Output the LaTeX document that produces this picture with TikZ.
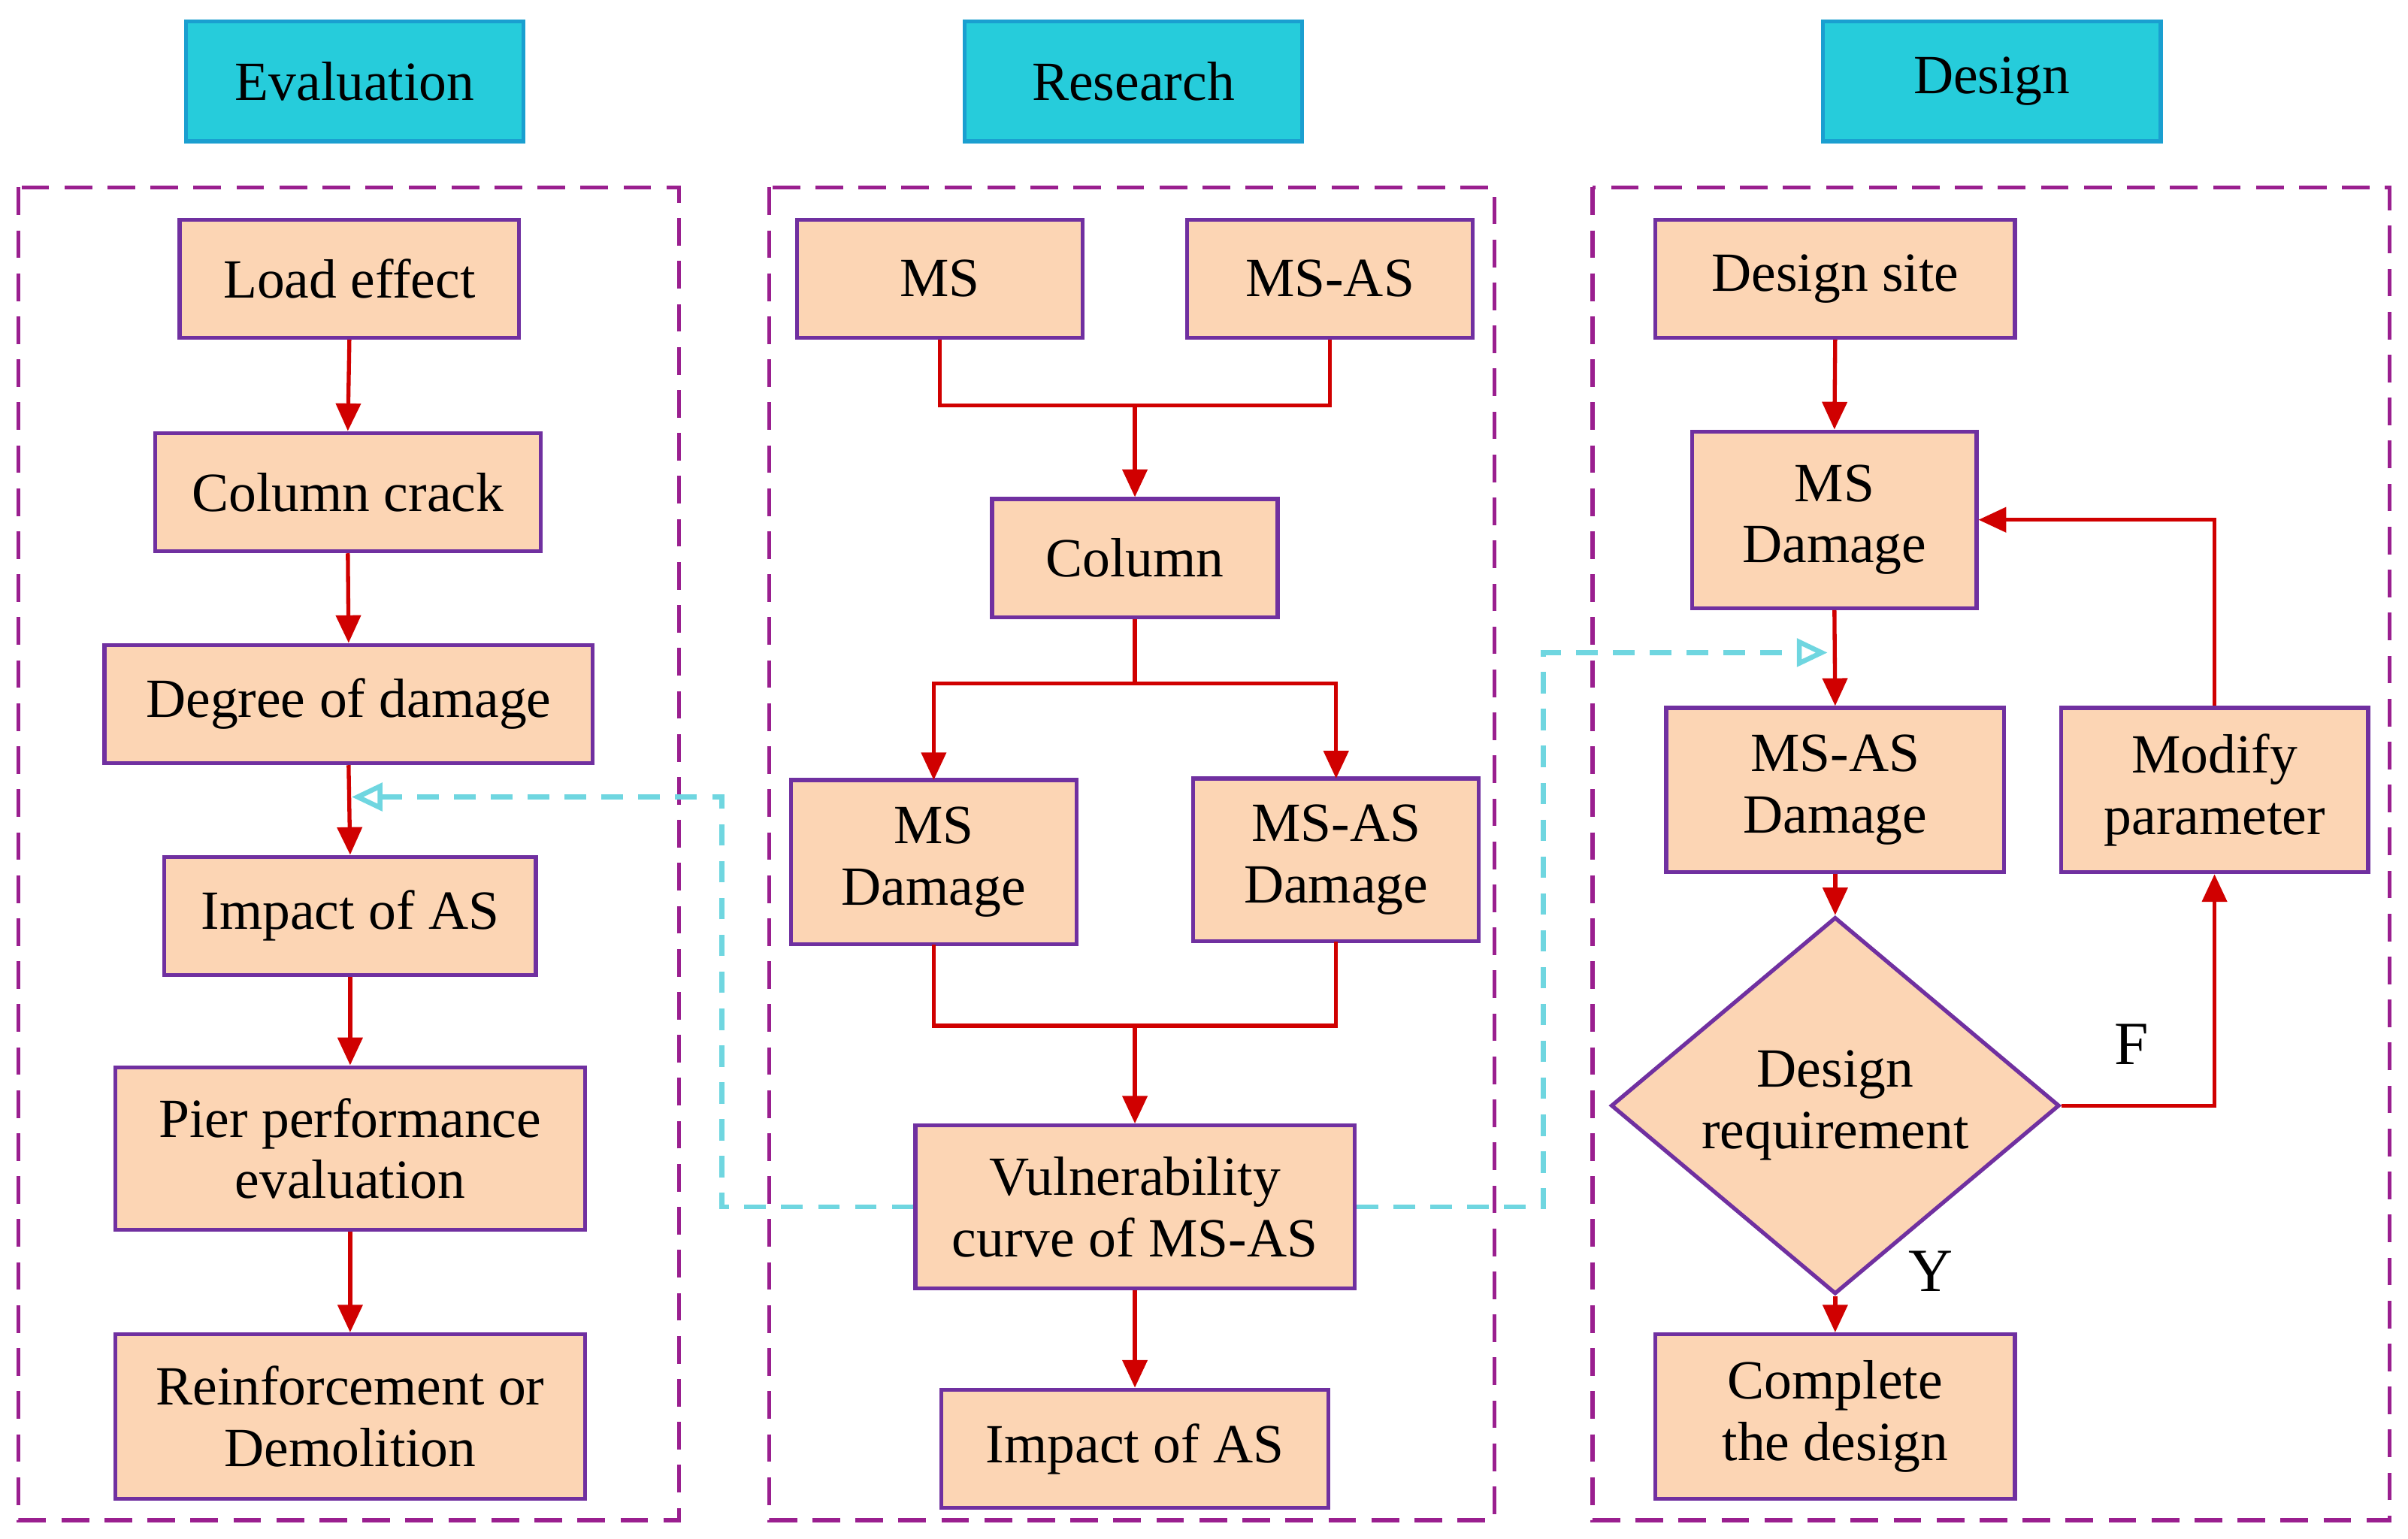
\documentclass[tikz,border=0pt]{standalone}
\usepackage{fontspec}
\setmainfont{Liberation Serif}
\usetikzlibrary{shapes.geometric,arrows.meta}
\definecolor{peach}{HTML}{FCD5B4}
\definecolor{purp}{HTML}{7030A0}
\definecolor{arr}{HTML}{D00000}
\definecolor{cyanf}{HTML}{26CCDB}
\definecolor{cyanb}{HTML}{1A9FD0}
\definecolor{panel}{HTML}{9A1F8F}
\definecolor{dash}{HTML}{6FD6E0}
\begin{document}
\begin{tikzpicture}[x=0.5pt,y=-0.5pt,
 box/.style={draw=purp,fill=peach,line width=1.3pt,align=center,font=\fontsize{18}{20}\selectfont,inner sep=0pt},
 head/.style={draw=cyanb,fill=cyanf,line width=1.3pt,minimum width=110pt,minimum height=39pt,font=\fontsize{18}{20}\selectfont,inner sep=0pt},
 pan/.style={draw=panel,line width=1.3pt,dash pattern=on 9pt off 5pt},
 ar/.style={draw=arr,line width=1.3pt,-{Triangle[length=9pt,width=8pt]}},
 ln/.style={draw=arr,line width=1.3pt},
 cy/.style={draw=dash,line width=1.6pt,dash pattern=on 7pt off 5pt}]
\useasboundingbox (0,0) rectangle (1568,1002);
\newcommand{\bx}[7]{\node[box,minimum width={(#4-#3)*0.5pt},minimum height={(#6-#5)*0.5pt}] (#1) at ({(#3+#4)/2},{(#5+#6)/2}) {#7};}
\node[head] (h1) at (231,53) {Evaluation};
\node[head] (h2) at (738,53) {Research};
\node[head] (h3) at (1297,53) {Design};
\draw[pan] (12,122) rectangle (442,990);
\draw[pan] (501,122) rectangle (973,990);
\draw[pan] (1037,122) rectangle (1556,990);
% left
\bx{a1}{}{117}{338}{143}{220}{Load effect}
\bx{a2}{}{101}{352}{282}{359}{Column crack}
\bx{a3}{}{68}{386}{420}{497}{Degree of damage}
\bx{a4}{}{107}{349}{558}{635}{Impact of AS}
\bx{a5}{}{75}{381}{695}{801}{Pier performance\\evaluation}
\bx{a6}{}{75}{381}{869}{976}{Reinforcement or\\Demolition}
\draw[ar] (a1.south) -- (a2.north);
\draw[ar] (a2.south) -- (a3.north);
\draw[ar] (a3.south) -- (a4.north);
\draw[ar] (a4.south) -- (a5.north);
\draw[ar] (a5.south) -- (a6.north);
% middle
\bx{b1}{}{519}{705}{143}{220}{MS}
\bx{b2}{}{773}{959}{143}{220}{MS-AS}
\bx{b3}{}{646}{832}{325}{402}{Column}
\bx{b4}{}{515}{701}{508}{615}{MS\\Damage}
\bx{b5}{}{777}{963}{507}{613}{MS-AS\\Damage}
\bx{b6}{}{596}{882}{733}{839}{Vulnerability\\curve of MS-AS}
\bx{b7}{}{613}{865}{905}{982}{Impact of AS}
\coordinate (j1) at (739,264);
\draw[ln] (b1.south) |- (j1) -| (b2.south);
\draw[ar] (j1) -- (b3.north);
\coordinate (j2) at (739,445);
\draw[ln] (b3.south) -- (j2);
\draw[ar] (j2) -| (608,508);
\draw[ar] (j2) -| (870,507);
\coordinate (j3) at (739,668);
\draw[ln] (608,615) |- (j3) -| (870,613);
\draw[ar] (j3) -- (b6.north);
\draw[ar] (b6.south) -- (b7.north);
% right
\bx{c1}{}{1078}{1312}{143}{220}{Design site}
\bx{c2}{}{1102}{1287}{281}{396}{MS\\Damage}
\bx{c3}{}{1085}{1305}{461}{568}{MS-AS\\Damage}
\bx{c4}{}{1342}{1542}{461}{568}{Modify\\parameter}
\node[diamond,draw=purp,fill=peach,line width=1.3pt,minimum width=146pt,minimum height=85pt,inner sep=0pt,align=center,font=\fontsize{18}{20}\selectfont] (c5) at (1195,720) {Design\\requirement};
\bx{c6}{}{1078}{1312}{869}{976}{Complete\\the design}
\draw[ar] (c1.south) -- (c2.north);
\draw[ar] (c2.south) -- (c3.north);
\draw[ar] (c3.south) -- (c5.north);
\draw[ar] (c5.south) -- (c6.north);
\draw[ar] (c5.east) -| (c4.south);
\draw[ar] (c4.north) |- (c2.east);
\node[font=\fontsize{20}{22}\selectfont] (f) at (1388,680) {F};
\node[font=\fontsize{20}{22}\selectfont] (y) at (1257,828) {Y};
% cyan
\coordinate (k1) at (229,519);
\coordinate (k2) at (1190,425);
\draw[cy,-{Triangle[length=10pt,width=9pt,open,fill=white]}] (b6.west) -| (470,519) -- (k1);
\draw[cy,-{Triangle[length=10pt,width=9pt,open,fill=white]}] (b6.east) -| (1005,425) -- (k2);
\end{tikzpicture}
\end{document}
